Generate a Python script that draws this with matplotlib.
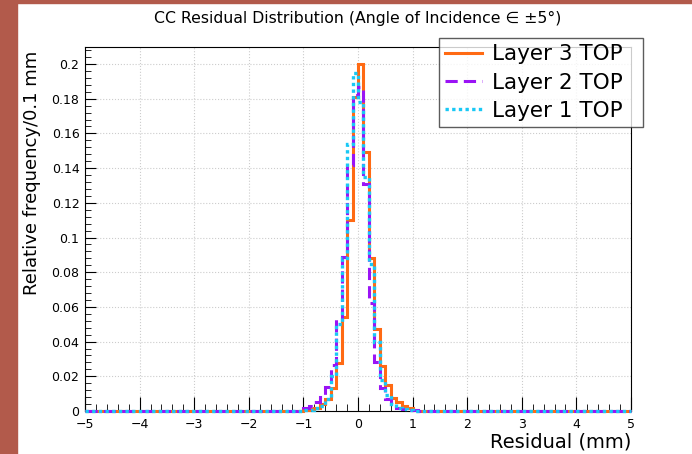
import numpy as np
import matplotlib.pyplot as plt
from matplotlib.ticker import MultipleLocator, FuncFormatter

# bins of 0.1 mm from -5 to 5; only the central bins from -1.2 to 1.2 are non-zero
edges = np.round(np.arange(-5.0, 5.0001, 0.1), 2)
centre_lo = -1.2  # left edge of the first listed bin

layer3 = [0, 0.0002, 0.0005, 0.001, 0.002, 0.004, 0.007, 0.013, 0.0275, 0.054, 0.110, 0.181,
          0.200, 0.149, 0.088, 0.047, 0.026, 0.015, 0.0075, 0.005, 0.003, 0.0015, 0.0008, 0.0002]
layer2 = [0, 0.0003, 0.0015, 0.003, 0.005, 0.008, 0.014, 0.0265, 0.053, 0.089, 0.142, 0.182,
          0.187, 0.131, 0.062, 0.028, 0.013, 0.007, 0.004, 0.002, 0.0012, 0.0006, 0.0003, 0]
layer1 = [0, 0, 0.0003, 0.0008, 0.0015, 0.003, 0.007, 0.02, 0.05, 0.088, 0.154, 0.195,
          0.178, 0.135, 0.085, 0.040, 0.018, 0.009, 0.004, 0.002, 0.001, 0.0005, 0, 0]

labels = ['Layer 3 TOP', 'Layer 2 TOP', 'Layer 1 TOP']
colors = ['#ff6a13', '#9a13f5', '#19c8f5']


def full_hist(vals):
    h = np.zeros(len(edges) - 1)
    i0 = int(round((centre_lo - edges[0]) / 0.1))
    h[i0:i0 + len(vals)] = vals
    return h


fig = plt.figure(figsize=(6.92, 4.54), dpi=100)
# reddish frame strip of the screenshot
fig.patches.append(plt.Rectangle((0, 0), 17 / 692, 1, transform=fig.transFigure,
                                 color='#b25a4b', zorder=0))
fig.patches.append(plt.Rectangle((0, 1 - 3 / 454), 1, 3 / 454, transform=fig.transFigure,
                                 color='#b25a4b', zorder=0))

ax = fig.add_axes([85 / 692, 43 / 454, 546 / 692, 364 / 454])

ax.stairs(full_hist(layer3), edges, color=colors[0], lw=2.2, label=labels[0], zorder=3, clip_on=False)
ax.stairs(full_hist(layer2), edges, color=colors[1], lw=2.2, ls=(0, (4, 2)), label=labels[1],
          zorder=4, clip_on=False)
ax.stairs(full_hist(layer1), edges, color=colors[2], lw=2.4, ls=(0, (1, 1)), label=labels[2],
          zorder=5, clip_on=False)

ax.set_xlim(-5, 5)
ax.set_ylim(0, 0.2098)

ax.xaxis.set_major_locator(MultipleLocator(1))
ax.xaxis.set_minor_locator(MultipleLocator(0.2))
ax.yaxis.set_major_locator(MultipleLocator(0.02))
ax.yaxis.set_minor_locator(MultipleLocator(0.004))
ax.yaxis.set_major_formatter(FuncFormatter(lambda v, p: '%g' % round(v, 3)))
ax.xaxis.set_major_formatter(FuncFormatter(lambda v, p: ('%g' % v).replace('-', '\u2212')))

ax.tick_params(which='both', direction='in', top=False, right=False, labelsize=9)
ax.tick_params(axis='y', which='major', length=8, pad=4)
ax.tick_params(axis='y', which='minor', length=4)
ax.tick_params(axis='x', which='major', length=10, pad=5)
ax.tick_params(axis='x', which='minor', length=5)
ax.grid(True, which='major', color='#cccccc', ls=':', lw=0.8)

ax.set_title('CC Residual Distribution (Angle of Incidence \u2208 \u00b15\u00b0)', fontsize=11.3, pad=17)
ax.set_ylabel('Relative frequency/0.1 mm', fontsize=13, loc='top')
ax.yaxis.set_label_coords(-0.08, 0.99)
ax.set_xlabel('Residual (mm)', fontsize=14, loc='right', labelpad=1)

leg = ax.legend(loc='upper left', bbox_to_anchor=(354 / 546, 1.025, 204 / 546, 0), mode='expand',
                fontsize=15.5, frameon=True, fancybox=False, edgecolor='#333333', handlelength=1.7,
                borderpad=0.3, labelspacing=0.38, handletextpad=0.45, borderaxespad=0)
leg.get_frame().set_linewidth(1.0)
leg.set_zorder(10)

fig.savefig('out.png', dpi=100)
